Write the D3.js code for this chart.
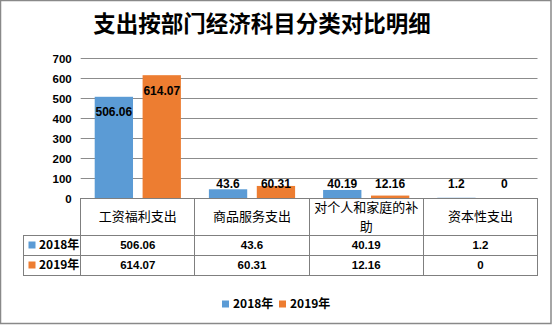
<!DOCTYPE html>
<html>
<head>
<meta charset="utf-8">
<script src="https://cdn.jsdelivr.net/npm/d3@7"></script>
<style>
  html, body { margin: 0; padding: 0; background: #fff; }
  svg { display: block; }
</style>
</head>
<body>
<svg id="chart" width="552" height="325"></svg>
<script>
// Expenditure by economic classification, 2018 vs 2019
const title = "支出按部门经济科目分类对比明细";
const categories = ["工资福利支出", "商品服务支出", "对个人和家庭的补助", "资本性支出"];
const categoryLines = [["工资福利支出"], ["商品服务支出"], ["对个人和家庭的补", "助"], ["资本性支出"]];
const seriesNames = ["2018年", "2019年"];
const values2018 = [506.06, 43.6, 40.19, 1.2];
const values2019 = [614.07, 60.31, 12.16, 0];
const yTicks = [0, 100, 200, 300, 400, 500, 600, 700];
const colors = ["#5b9bd5", "#ed7d31"];

const seriesValues = [values2018, values2019];
const svg = d3.select("#chart");
const W = 552, H = 325;

const latin = "'Liberation Sans', Arial, sans-serif";
const cjk = "'Noto Sans CJK SC', 'Liberation Sans', sans-serif";

// outer frame
svg.append("rect")
  .attr("x", 0.5).attr("y", 0.5).attr("width", W - 1.5).attr("height", H - 2)
  .attr("fill", "#fff").attr("stroke", "#898989").attr("stroke-width", 1.5);

// title
svg.append("text")
  .attr("x", 262).attr("y", 32)
  .attr("text-anchor", "middle")
  .attr("font-family", cjk).attr("font-weight", 700).attr("font-size", 22.5)
  .attr("fill", "#000")
  .text(title);

const plotLeft = 80.7, plotRight = 537.5, plotTop = 58, plotBottom = 198;

const x0 = d3.scaleBand().domain(categories).range([plotLeft, plotRight]).padding(0);
const x1 = d3.scaleBand().domain(seriesNames).range([14, x0.bandwidth() - 14]).paddingInner(0.2);
const y = d3.scaleLinear().domain([0, 700]).range([plotBottom, plotTop]);

// gridlines
svg.append("g")
  .selectAll("line").data(yTicks.filter(t => t > 0)).join("line")
  .attr("x1", plotLeft).attr("x2", plotRight)
  .attr("y1", d => Math.round(y(d)) + 0.5).attr("y2", d => Math.round(y(d)) + 0.5)
  .attr("stroke", "#8c8c8c").attr("stroke-width", 1);

// y axis labels
const yAxis = d3.axisLeft(y).tickValues(yTicks).tickSize(0).tickPadding(0);
const yg = svg.append("g").attr("transform", `translate(${plotLeft - 9},0)`).call(yAxis);
yg.select(".domain").remove();
yg.selectAll("text")
  .attr("font-family", latin).attr("font-weight", 700).attr("font-size", 11.5)
  .attr("fill", "#000").attr("dy", "0.35em");

// bars
const groups = svg.append("g").selectAll("g").data(categories).join("g")
  .attr("transform", d => `translate(${x0(d)},0)`);

groups.selectAll("rect")
  .data((c, i) => seriesNames.map((s, k) => ({ s, k, v: seriesValues[k][i] })))
  .join("rect")
  .attr("x", d => x1(d.s)).attr("width", x1.bandwidth())
  .attr("y", d => y(d.v)).attr("height", d => y(0) - y(d.v))
  .attr("fill", d => colors[d.k]);

// data labels: inside the top of tall bars, above the baseline for short ones
groups.selectAll("text")
  .data((c, i) => seriesNames.map((s, k) => ({ s, k, v: seriesValues[k][i] })))
  .join("text")
  .attr("x", d => x1(d.s) + x1.bandwidth() / 2)
  .attr("y", d => d.v > 100 ? y(d.v) + 19.5 : y(0) - 10.5)
  .attr("text-anchor", "middle")
  .attr("font-family", latin).attr("font-weight", 700).attr("font-size", 12)
  .attr("fill", "#000")
  .text(d => d.v);

// data table below the axis
const tableLeft = 23.3;
const rowHeader = [198, 235];
const rowYs = [235, 255, 275];
const lineColor = "#7f7f7f";
const tbl = svg.append("g").attr("stroke", lineColor).attr("stroke-width", 1).attr("shape-rendering", "crispEdges");

tbl.append("line").attr("x1", plotLeft).attr("x2", plotRight).attr("y1", plotBottom).attr("y2", plotBottom);
rowYs.forEach(ry => {
  tbl.append("line").attr("x1", tableLeft).attr("x2", plotRight).attr("y1", ry).attr("y2", ry);
});
tbl.append("line").attr("x1", tableLeft).attr("x2", tableLeft).attr("y1", rowYs[0]).attr("y2", rowYs[2]);
const colEdges = categories.map(c => x0(c)).concat([plotRight]);
colEdges.forEach(cx => {
  tbl.append("line").attr("x1", cx).attr("x2", cx).attr("y1", plotBottom).attr("y2", rowYs[2]);
});

// header cells (category names), wrapped lines as tspans of one text
categories.forEach((c, i) => {
  const lines = categoryLines[i];
  const cx = x0(c) + x0.bandwidth() / 2;
  const cy = (rowHeader[0] + rowHeader[1]) / 2;
  const lh = 19;
  const t = svg.append("text")
    .attr("text-anchor", "middle")
    .attr("font-family", cjk).attr("font-size", 13).attr("fill", "#000");
  lines.forEach((ln, j) => {
    t.append("tspan")
      .attr("x", cx)
      .attr("y", cy + (j - (lines.length - 1) / 2) * lh)
      .attr("dy", "0.36em")
      .text(ln);
  });
});

// series rows
seriesNames.forEach((s, k) => {
  const cy = (rowYs[k] + rowYs[k + 1]) / 2;
  svg.append("rect")
    .attr("x", 28.5).attr("y", cy - 3.5).attr("width", 7).attr("height", 7)
    .attr("fill", colors[k]);
  svg.append("text")
    .attr("x", 39).attr("y", cy).attr("dy", "0.36em")
    .attr("font-family", cjk).attr("font-weight", 700).attr("font-size", 12).attr("fill", "#000")
    .text(s);
  categories.forEach((c, i) => {
    svg.append("text")
      .attr("x", x0(c) + x0.bandwidth() / 2).attr("y", cy).attr("dy", "0.36em")
      .attr("text-anchor", "middle")
      .attr("font-family", latin).attr("font-weight", 700).attr("font-size", 11.5).attr("fill", "#000")
      .text(seriesValues[k][i]);
  });
});

// bottom legend
const legendX = [222, 279];
seriesNames.forEach((s, k) => {
  svg.append("rect")
    .attr("x", legendX[k]).attr("y", 300.5).attr("width", 7).attr("height", 7)
    .attr("fill", colors[k]);
  svg.append("text")
    .attr("x", legendX[k] + 11).attr("y", 304).attr("dy", "0.36em")
    .attr("font-family", cjk).attr("font-weight", 700).attr("font-size", 12).attr("fill", "#000")
    .text(s);
});
</script>
</body>
</html>
